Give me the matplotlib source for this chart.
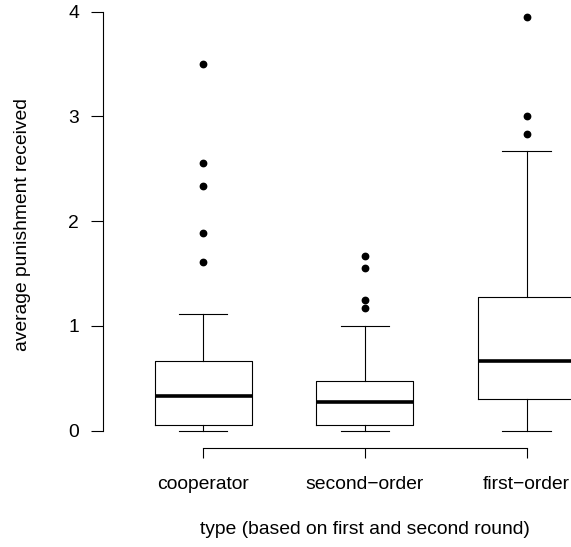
import matplotlib
matplotlib.use("Agg")
import matplotlib.pyplot as plt

plt.rcParams['font.family'] = ['Liberation Sans', 'DejaVu Sans']

# punishment received per player type (box summaries and outliers)
labels = ['cooperator', 'second\u2212order', 'first\u2212order']
q1 = [0.056, 0.056, 0.306]
med = [0.333, 0.278, 0.667]
q3 = [0.667, 0.472, 1.278]
whislo = [0.0, 0.0, 0.0]
whishi = [1.111, 1.0, 2.667]
fliers = [
    [3.5, 2.556, 2.333, 1.889, 1.611],
    [1.667, 1.556, 1.25, 1.167],
    [3.944, 3.0, 2.833],
]
yticks = [0, 1, 2, 3, 4]

stats = []
for i in range(len(labels)):
    stats.append(dict(q1=q1[i], med=med[i], q3=q3[i],
                      whislo=whislo[i], whishi=whishi[i],
                      fliers=fliers[i], label=labels[i]))

fig = plt.figure(figsize=(5.71, 5.47), dpi=100)
ax = fig.add_axes([0.18, 0.181, 0.918, 0.817])

lw = 0.8
fs = 13.9
ax.bxp(stats, positions=[1, 2, 3], widths=0.6, capwidths=0.3,
       boxprops=dict(color='black', linewidth=lw),
       whiskerprops=dict(color='black', linewidth=lw, linestyle='-'),
       capprops=dict(color='black', linewidth=lw),
       medianprops=dict(color='black', linewidth=2.6, solid_capstyle='butt'),
       flierprops=dict(marker='o', markerfacecolor='black',
                       markeredgecolor='black', markersize=4.6))

ax.set_xlim(0.38, 3.62)
ax.set_ylim(-0.165, 4.1)

for s in ['top', 'right']:
    ax.spines[s].set_visible(False)
ax.spines['left'].set_bounds(0, 4)
ax.spines['bottom'].set_bounds(1, 3)
ax.spines['left'].set_linewidth(lw)
ax.spines['bottom'].set_linewidth(lw)

ax.set_yticks(yticks)
ax.set_yticklabels([str(t) for t in yticks])
ax.set_xticks([1, 2, 3])
ax.set_xticklabels(labels)
ax.tick_params(axis='y', length=8.6, width=lw, pad=8.4, labelsize=fs)
ax.tick_params(axis='x', length=7.5, width=lw, pad=13, labelsize=fs)

ax.set_xlabel('type (based on first and second round)', fontsize=fs, labelpad=20)
ax.set_ylabel('average punishment received', fontsize=fs, labelpad=27)

fig.savefig('out.png', dpi=100)
